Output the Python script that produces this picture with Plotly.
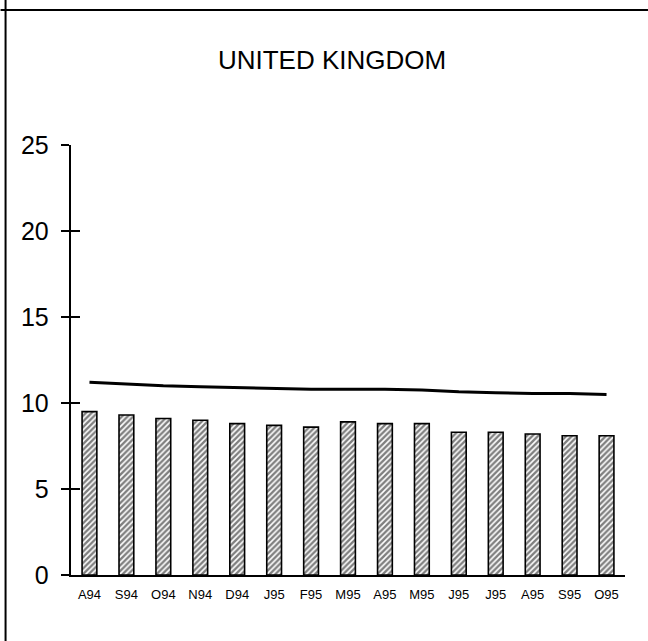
import plotly.graph_objects as go

months = ["A94", "S94", "O94", "N94", "D94", "J95", "F95", "M95", "A95", "M95",
          "J95", "J95", "A95", "S95", "O95"]
bar_values = [9.5, 9.3, 9.1, 9.0, 8.8, 8.7, 8.6, 8.9, 8.8, 8.8, 8.3, 8.3, 8.2, 8.1, 8.1]
line_values = [11.2, 11.1, 11.0, 10.95, 10.9, 10.85, 10.8, 10.8, 10.8, 10.75,
               10.65, 10.6, 10.55, 10.55, 10.5]
y_ticks = [0, 5, 10, 15, 20, 25]

x_idx = list(range(len(months)))

W, H = 648, 641
L, R, T, B = 70.5, 23, 145, 66

fig = go.Figure()
fig.add_trace(go.Bar(
    x=x_idx, y=bar_values, width=0.4,
    marker=dict(color="white", line=dict(color="black", width=1.6),
                pattern=dict(shape="/", size=4, solidity=0.6,
                             fgcolor="black", bgcolor="white")),
    showlegend=False, hoverinfo="skip"))
fig.add_trace(go.Scatter(
    x=x_idx, y=line_values, mode="lines",
    line=dict(color="black", width=3), showlegend=False, hoverinfo="skip"))
# invisible trace on second y-axis to activate inside ticks
fig.add_trace(go.Scatter(x=[x_idx[0]], y=[0], yaxis="y2", mode="markers",
                         marker=dict(opacity=0), showlegend=False, hoverinfo="skip"))

pw = W - L - R
ph = H - T - B
def px2paper_x(px):
    return (px - L) / pw
def py2paper_y(py):
    return (H - B - py) / ph

fig.update_layout(
    width=W, height=H,
    margin=dict(l=L, r=R, t=T, b=B, pad=0),
    paper_bgcolor="white", plot_bgcolor="white",
    font=dict(family="Liberation Sans, Arial, sans-serif", color="black"),
    title=dict(text="UNITED KINGDOM", x=332 / W, xref="container", xanchor="center",
               y=1 - 60 / H, yref="container", yanchor="middle",
               font=dict(size=26, color="black")),
    xaxis=dict(range=[-0.5, 14.5], tickmode="array", tickvals=x_idx, ticktext=months,
               showgrid=False, zeroline=False, showline=True, linecolor="black",
               linewidth=1.5, ticks="", tickfont=dict(size=13, color="black"),
               ticklabelstandoff=7),
    yaxis=dict(range=[0, 25], tickvals=y_ticks, showgrid=False, zeroline=False,
               showline=True, linecolor="black", linewidth=1.5,
               ticks="outside", ticklen=8.5, tickwidth=1.5, tickcolor="black",
               tickfont=dict(size=25, color="black"), ticklabelstandoff=7),
    yaxis2=dict(range=[0, 25], tickvals=y_ticks, overlaying="y", side="left",
                anchor="x", showgrid=False, zeroline=False, showline=False,
                ticks="inside", ticklen=9, tickwidth=1.5, tickcolor="black",
                showticklabels=False),
    shapes=[
        dict(type="line", xref="paper", yref="paper",
             x0=px2paper_x(0), x1=px2paper_x(W), y0=py2paper_y(10), y1=py2paper_y(10),
             line=dict(color="black", width=2)),
        dict(type="line", xref="paper", yref="paper",
             x0=px2paper_x(5), x1=px2paper_x(5), y0=py2paper_y(0), y1=py2paper_y(H),
             line=dict(color="black", width=2)),
    ],
)

fig.write_html("out.html", config={"displayModeBar": False},
               post_script="document.body.style.margin='0';document.body.style.padding='0';")
